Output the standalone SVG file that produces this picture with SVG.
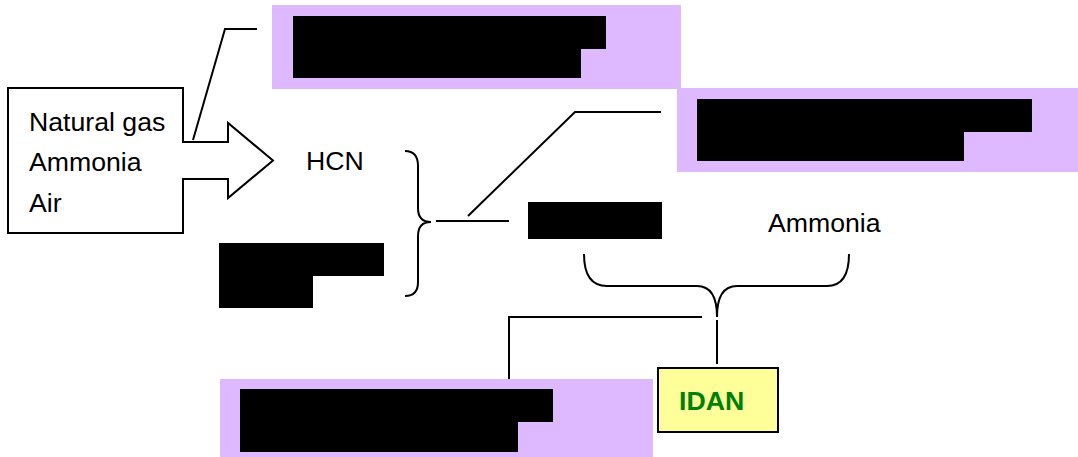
<svg xmlns="http://www.w3.org/2000/svg" width="1078" height="457" viewBox="0 0 1078 457">
<style>
.t{font-family:"Liberation Sans",Arial,sans-serif;font-size:26.67px;fill:#000}
.b{font-weight:bold;fill:#008000}
.ln{fill:none;stroke:#000;stroke-width:2}
.pu{fill:#DFB9FF}
.red{fill:#000}
</style>
<rect width="1078" height="457" fill="#fff"/>
<g id="connectors">
<polyline class="ln" points="257,29 225,29 193,140"/>
<path class="ln" d="M405,151 Q418,151 418,166 V208 Q418,222 431,222 Q418,222 418,236 V282 Q418,296 405,296"/>
<line class="ln" x1="436" y1="221" x2="509" y2="221"/>
<polyline class="ln" points="468,216 575,112 661,112"/>
<path class="ln" d="M584,254 Q584,286 607,286 H697 Q717,286 717,317 Q717,286 737,286 H827 Q849,286 849,254"/>
<polyline class="ln" points="702,317 509,317 509,379"/>
<line class="ln" x1="717" y1="320" x2="717" y2="364"/>
</g>
<g id="input">
<path class="ln" d="M8,88 H183 V142 H228 V123 L273,160.5 L228,198 V179 H183 V233 H8 Z" fill="#fff"/>
<text class="t" x="29" y="131">Natural gas</text>
<text class="t" x="29" y="171">Ammonia</text>
<text class="t" x="29" y="212">Air</text>
</g>
<g id="hcn"><text class="t" x="306" y="170">HCN</text></g>
<g id="left-redacted">
<rect class="red" x="219" y="243" width="165" height="33"/>
<rect class="red" x="219" y="275" width="94" height="33"/>
</g>
<g id="mid-redacted">
<rect class="red" x="528" y="202" width="134" height="37"/>
</g>
<g id="ammonia"><text class="t" x="768" y="232">Ammonia</text></g>
<g id="box1">
<rect class="pu" x="272" y="5" width="409" height="84"/>
<rect class="red" x="293" y="16" width="313" height="33"/>
<rect class="red" x="293" y="48" width="288" height="30"/>
</g>
<g id="box2">
<rect class="pu" x="677" y="88" width="401" height="84"/>
<rect class="red" x="697" y="99" width="335" height="33"/>
<rect class="red" x="697" y="131" width="267" height="30"/>
</g>
<g id="box3">
<rect class="pu" x="220" y="379" width="433" height="78"/>
<rect class="red" x="240" y="389" width="313" height="33"/>
<rect class="red" x="240" y="421" width="278" height="31"/>
</g>
<g id="idan">
<rect x="658" y="368" width="120" height="64" fill="#FFFF99" stroke="#000" stroke-width="2"/>
<text class="t b" x="679" y="410">IDAN</text>
</g>
</svg>
